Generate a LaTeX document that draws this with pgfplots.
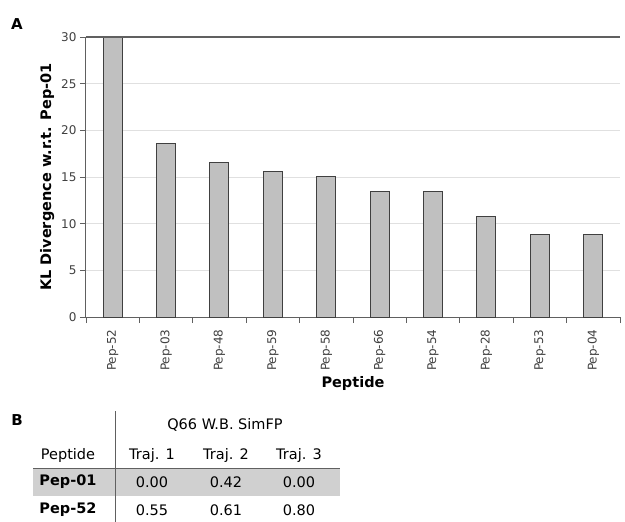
\documentclass[border=0pt]{standalone}
\usepackage{pgfplots}
\pgfplotsset{compat=1.18}
\usepackage{fontspec}
\setmainfont{DejaVu Sans}
\definecolor{barfill}{HTML}{C0C0C0}
\definecolor{bardraw}{HTML}{404040}
\definecolor{axgray}{HTML}{606060}
\definecolor{gridgray}{HTML}{E0E0E0}
\definecolor{rowgray}{HTML}{D0D0D0}
\begin{document}
\begin{tikzpicture}
\useasboundingbox (0pt,0pt) rectangle (625pt,-522pt);
\begin{axis}[
  at={(86pt,-317pt)}, anchor=south west,
  scale only axis, width=534pt, height=280pt,
  xmin=-0.5, xmax=9.5, ymin=0, ymax=30,
  axis x line*=bottom, axis y line*=left,
  axis line style={axgray, line width=1pt},
  ybar, bar width=19pt,
  xtick={-0.5,0.5,...,9.5},
  x tick label as interval,
  xticklabels={Pep-52,Pep-03,Pep-48,Pep-59,Pep-58,Pep-66,Pep-54,Pep-28,Pep-53,Pep-04},
  x tick label style={rotate=90, anchor=east, font=\fontsize{12}{14}\selectfont, text=black!75},
  xtick align=outside,
  xticklabel shift=3pt,
  major tick length=6pt,
  tick style={axgray, line width=0.8pt},
  ytick={0,5,...,30},
  y tick label style={font=\fontsize{12}{14}\selectfont, text=black!75},
  ytick align=outside,
  ymajorgrids, grid style={gridgray, line width=0.8pt},
  /pgf/number format/assume math mode=true,
  ylabel={\bfseries KL Divergence w.r.t. Pep-01},
  ylabel style={font=\fontsize{14.5}{16}\selectfont},
  xlabel={\bfseries Peptide},
  xlabel style={font=\fontsize{14.5}{16}\selectfont, at={(rel axis cs:0.5,0)}, anchor=center, yshift=-66pt},
  clip=false,
]
\addplot[fill=barfill, draw=bardraw, line width=1pt] coordinates {
(0,30) (1,18.6) (2,16.6) (3,15.6) (4,15.1) (5,13.5) (6,13.5) (7,10.8) (8,8.8) (9,8.8)};
\draw[axgray, line width=1.2pt] (rel axis cs:0,1) -- (rel axis cs:1,1);
\end{axis}
\node[font=\fontsize{15}{17}\selectfont\bfseries] at (17pt,-24pt) {A};
\node[font=\fontsize{15}{17}\selectfont\bfseries] at (17pt,-420pt) {B};
% table B
\fill[rowgray] (33pt,-468pt) rectangle (340pt,-496pt);
\draw[axgray, line width=1pt] (33pt,-468pt) -- (340pt,-468pt);
\draw[axgray, line width=1pt] (115pt,-411pt) -- (115pt,-522pt);
\begin{scope}[every node/.style={font=\fontsize{14.5}{16}\selectfont}]
\node at (225pt,-425pt) {Q66 W.B. SimFP};
\node at (68pt,-455pt) {Peptide};
\node at (152pt,-455pt) {Traj. 1};
\node at (226pt,-455pt) {Traj. 2};
\node at (299pt,-455pt) {Traj. 3};
\node at (68pt,-482pt) {\bfseries Pep-01};
\node at (152pt,-482pt) {0.00};
\node at (226pt,-482pt) {0.42};
\node at (299pt,-482pt) {0.00};
\node at (68pt,-510pt) {\bfseries Pep-52};
\node at (152pt,-510pt) {0.55};
\node at (226pt,-510pt) {0.61};
\node at (299pt,-510pt) {0.80};
\end{scope}
\end{tikzpicture}
\end{document}
